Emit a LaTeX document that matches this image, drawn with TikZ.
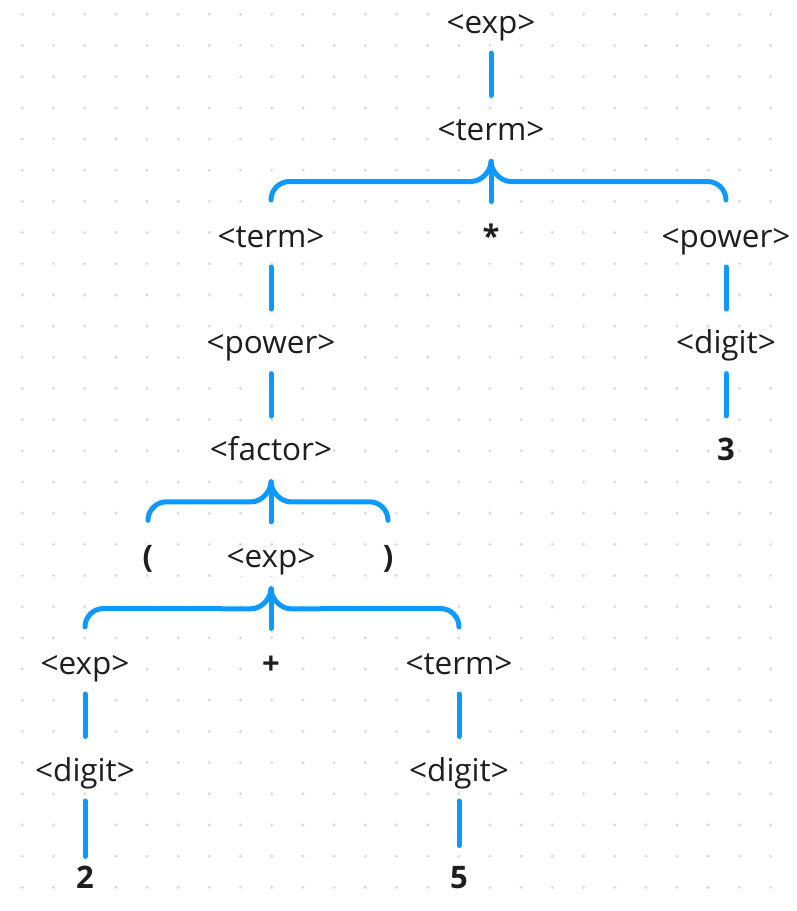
\documentclass[tikz,border=0pt]{standalone}
\usepackage{fontspec}
\setmainfont{Open Sans}

\definecolor{treeblue}{HTML}{0D99FF}
\definecolor{gridgray}{HTML}{DCDCDC}
\definecolor{ink}{HTML}{1E1E1E}

\begin{document}
\begin{tikzpicture}[
  x=1pt, y=-1pt,
  font=\fontsize{31.5}{38}\selectfont,
  sym/.style={anchor=base, fill=white, inner sep=1pt, text=ink},
  tok/.style={sym, font=\fontsize{31}{38}\selectfont\bfseries},
  link/.style={draw=treeblue, line width=5pt, line cap=round},
  stem/.style={link, shorten <=20pt, shorten >=44.5pt}
]

% page and dot grid
\fill[white] (0,0) rectangle (797,911);
\foreach \i in {0,...,24}
  \foreach \j in {0,...,28}
    \fill[gridgray] (22.3+31.18*\i, 14.3+31.18*\j) circle (1.7pt);

% parse tree
\node[sym] (exp1) at (491,33) {<exp>};
\node[sym] (term1) at (491,140) {<term>};

\node[sym] (term2) at (271,247) {<term>};
\node[tok] (star) at (491,247) {*};
\node[sym] (power1) at (726,247) {<power>};

\node[sym] (power2) at (271,353.6) {<power>};
\node[sym] (digit1) at (726,353.6) {<digit>};

\node[sym] (factor) at (271,460.4) {<factor>};
\node[tok] (three) at (726,460.4) {3};

\node[tok] (lpar) at (148,567.3) {(};
\node[sym] (exp2) at (271,567.3) {<exp>};
\node[tok] (rpar) at (388,567.3) {)};

\node[sym] (exp3) at (85,674) {<exp>};
\node[tok] (plus) at (271,674) {+};
\node[sym] (term3) at (459,674) {<term>};

\node[sym] (digit2) at (85,781) {<digit>};
\node[sym] (digit3) at (459,781) {<digit>};

\node[tok] (two) at (85,888) {2};
\node[tok] (five) at (459,888) {5};

% single links
\draw[stem] (exp1.base) -- (term1.base);
\draw[stem] (term2.base) -- (power2.base);
\draw[stem] (power2.base) -- (factor.base);
\draw[stem] (power1.base) -- (digit1.base);
\draw[stem] (digit1.base) -- (three.base);
\draw[stem] (exp3.base) -- (digit2.base);
\draw[stem, shorten >=31.5pt] (digit2.base) -- (two.base);
\draw[stem] (term3.base) -- (digit3.base);
\draw[stem, shorten >=42.5pt] (digit3.base) -- (five.base);

% braces
\coordinate (c1) at ([yshift=-21.5pt]term1.base);
\coordinate (h1) at ([yshift=-41.5pt]term1.base);
\draw[link] ([yshift=47pt]term2.base) arc[start angle=180, end angle=90, radius=18.5pt]
  -- ([xshift=-20pt]h1) .. controls ([xshift=-9pt]h1) and ([yshift=-9pt]c1) .. (c1);
\draw[link] ([yshift=47pt]power1.base) arc[start angle=0, end angle=90, radius=18.5pt]
  -- ([xshift=20pt]h1) .. controls ([xshift=9pt]h1) and ([yshift=-9pt]c1) .. (c1);
\draw[link, shorten >=45.5pt] (c1) -- (star.base);

\coordinate (c2) at ([yshift=-21.5pt]factor.base);
\coordinate (h2) at ([yshift=-41.5pt]factor.base);
\draw[link] ([yshift=47pt]lpar.base) arc[start angle=180, end angle=90, radius=18.5pt]
  -- ([xshift=-20pt]h2) .. controls ([xshift=-9pt]h2) and ([yshift=-9pt]c2) .. (c2);
\draw[link] ([yshift=47pt]rpar.base) arc[start angle=0, end angle=90, radius=18.5pt]
  -- ([xshift=20pt]h2) .. controls ([xshift=9pt]h2) and ([yshift=-9pt]c2) .. (c2);
\draw[link, shorten >=45.5pt] (c2) -- (exp2.base);

\coordinate (c3) at ([yshift=-21.5pt]exp2.base);
\coordinate (h3) at ([yshift=-41.5pt]exp2.base);
\draw[link] ([yshift=47pt]exp3.base) arc[start angle=180, end angle=90, radius=18.5pt]
  -- ([xshift=-20pt]h3) .. controls ([xshift=-9pt]h3) and ([yshift=-9pt]c3) .. (c3);
\draw[link] ([yshift=47pt]term3.base) arc[start angle=0, end angle=90, radius=18.5pt]
  -- ([xshift=20pt]h3) .. controls ([xshift=9pt]h3) and ([yshift=-9pt]c3) .. (c3);
\draw[link, shorten >=45.5pt] (c3) -- (plus.base);

\end{tikzpicture}
\end{document}
